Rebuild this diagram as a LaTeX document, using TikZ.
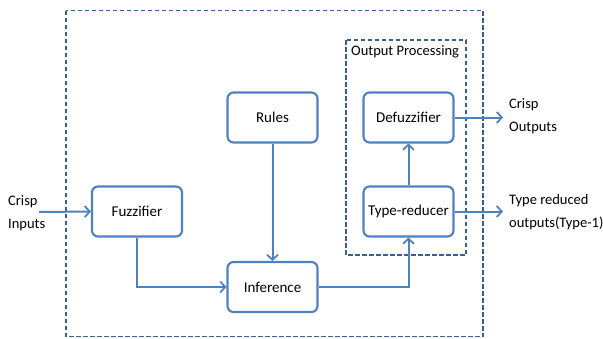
\documentclass[tikz,border=0pt]{standalone}
\usepackage{fontspec}
\setmainfont{Carlito}
\usetikzlibrary{arrows.meta}
\definecolor{boxblue}{HTML}{4F81BD}
\definecolor{dashblue}{HTML}{3C5E8E}
\tikzset{
  block/.style={draw=boxblue, line width=2.1pt, rounded corners=6pt, fill=white,
    minimum width=90pt, minimum height=50pt, inner sep=0pt, font=\fontsize{15}{16}\selectfont},
  flow/.style={draw=boxblue, line width=2pt, -{Straight Barb[length=5pt,width=11pt,line width=1.8pt]}},
  frame/.style={draw=dashblue, line width=1.8pt, dash pattern=on 4.5pt off 2.5pt},
  label/.style={font=\fontsize{14.5}{23}\selectfont, align=left, inner sep=0pt, anchor=west}
}
\begin{document}
\begin{tikzpicture}[x=1pt,y=-1pt]
  \useasboundingbox (0,0) rectangle (603,338);
  % dashed enclosures
  \draw[frame] (66,10.5) rectangle (483,336.5);
  \draw[frame] (346,40) rectangle (466,255);
  \node[anchor=north west, inner sep=0pt, font=\fontsize{14.5}{16}\selectfont] (optitle) at (351,45) {Output Processing};
  % blocks
  \node[block] (fuzz)  at (137,211.5) {Fuzzifier};
  \node[block] (rules) at (272.5,117.5) {Rules};
  \node[block] (inf)   at (272.5,287) {Inference};
  \node[block] (defuz) at (408.5,117.5) {Defuzzifier};
  \node[block] (tred)  at (408.5,211.5) {Type-reducer};
  % outside texts
  \node[label] (cin)  at (8,213) {Crisp\\Inputs};
  \node[label] (cout) at (509,116) {Crisp\\Outputs};
  \node[label] (tout) at (509,212) {Type reduced\\outputs(Type-1)};
  \coordinate (cinA) at (39,212);
  \coordinate (coutA) at (503,117.5);
  \coordinate (toutA) at (503,211.5);
  % connectors
  \draw[flow] (cinA) -- (fuzz.west);
  \draw[flow] (fuzz.south) |- (inf.west);
  \draw[flow] (rules.south) -- (inf.north);
  \draw[flow] (inf.east) -| (tred.south);
  \draw[flow] (tred.north) -- (defuz.south);
  \draw[flow] (defuz.east) -- (coutA);
  \draw[flow] (tred.east) -- (toutA);
\end{tikzpicture}
\end{document}
